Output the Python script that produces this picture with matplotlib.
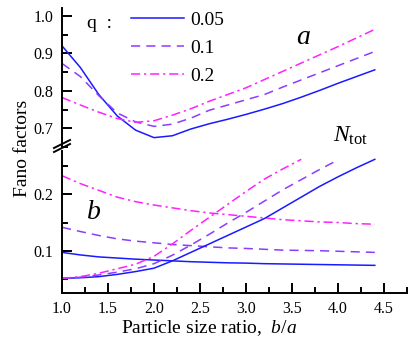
import matplotlib
matplotlib.use("Agg")
import matplotlib.pyplot as plt

# data
ratio = [1.0, 1.2, 1.4, 1.6, 1.8, 2.0, 2.2, 2.4, 2.6, 2.8, 3.0, 3.2, 3.4,
         3.6, 3.8, 4.0, 4.2, 4.4]

# panel a (upper)
a_q005 = [0.920, 0.862, 0.790, 0.733, 0.695, 0.675, 0.680, 0.698, 0.712,
          0.724, 0.737, 0.751, 0.766, 0.783, 0.801, 0.820, 0.838, 0.856]
a_q01 = [0.873, 0.838, 0.787, 0.741, 0.717, 0.705, 0.711, 0.727, 0.748,
         0.762, 0.776, 0.790, 0.810, 0.829, 0.848, 0.867, 0.886, 0.905]
a_q02 = [0.782, 0.762, 0.743, 0.726, 0.716, 0.720, 0.735, 0.752, 0.772,
         0.790, 0.808, 0.830, 0.852, 0.874, 0.896, 0.918, 0.941, 0.964]

# panel b (lower), decreasing curves
b_q005 = [0.097, 0.0925, 0.089, 0.087, 0.085, 0.0835, 0.082, 0.0805, 0.0795,
          0.0785, 0.078, 0.077, 0.0765, 0.076, 0.0755, 0.075, 0.0745, 0.074]
b_q01 = [0.1415, 0.134, 0.127, 0.121, 0.117, 0.114, 0.111, 0.109, 0.107,
         0.105, 0.104, 0.1025, 0.101, 0.1005, 0.100, 0.099, 0.098, 0.097]
b_q02 = [0.233, 0.219, 0.207, 0.195, 0.187, 0.181, 0.176, 0.171, 0.167,
         0.164, 0.161, 0.158, 0.155, 0.153, 0.151, 0.150, 0.148, 0.147]

# N_tot curves
ntot_q005 = [0.051, 0.052, 0.054, 0.058, 0.063, 0.069, 0.082, 0.097, 0.112,
             0.127, 0.142, 0.157, 0.176, 0.195, 0.214, 0.231, 0.247, 0.262]
ntot_q01 = [0.051, 0.053, 0.057, 0.062, 0.068, 0.077, 0.092, 0.110, 0.129,
            0.149, 0.168, 0.188, 0.208, 0.226, 0.244, 0.261]
ntot_q02 = [0.051, 0.054, 0.060, 0.068, 0.076, 0.090, 0.112, 0.136, 0.159,
            0.182, 0.205, 0.227, 0.245, 0.262]

q_labels = ["0.05", "0.1", "0.2"]

plt.rcParams["font.family"] = ["Liberation Serif", "DejaVu Serif"]
plt.rcParams["mathtext.fontset"] = "custom"
plt.rcParams["mathtext.rm"] = "Liberation Serif"
plt.rcParams["mathtext.it"] = "Liberation Serif:italic"

W, H = 414, 343
fig = plt.figure(figsize=(W / 100, H / 100), dpi=100)

left = 62 / W
right = 407 / W
ax_a = fig.add_axes([left, 1 - 147 / H, right - left, (147 - 8) / H])
ax_b = fig.add_axes([left, 1 - 293 / H, right - left, (293 - 151) / H])

blue = "#1a1aff"
purple = "#8c3cff"
magenta = "#ff22ff"
styles = [dict(color=blue, lw=1.1, ls="-"),
          dict(color=purple, lw=1.1, ls=(0, (6, 4))),
          dict(color=magenta, lw=1.1, ls=(0, (6, 2.5, 1.5, 2.5)))]

handles = []
for ys, st, lab in zip([a_q005, a_q01, a_q02], styles, q_labels):
    h, = ax_a.plot(ratio, ys, label=lab, **st)
    handles.append(h)

for ys, st in zip([b_q005, b_q01, b_q02], styles):
    ax_b.plot(ratio, ys, **st)
for ys, st in zip([ntot_q005, ntot_q01, ntot_q02], styles):
    ax_b.plot(ratio[:len(ys)], ys, **st)

for ax in (ax_a, ax_b):
    ax.set_xlim(1.0, 4.75)
    ax.spines["top"].set_visible(False)
    ax.spines["right"].set_visible(False)
    ax.spines["left"].set_linewidth(1.4)
    ax.spines["bottom"].set_linewidth(1.4)
    ax.tick_params(which="both", direction="in", width=1.4, labelsize=11.5,
                   pad=6)
    ax.tick_params(which="major", length=7)
    ax.tick_params(which="minor", length=4)
    ax.patch.set_alpha(0)

ax_a.spines["bottom"].set_visible(False)
ax_a.tick_params(axis="x", which="both", bottom=False, labelbottom=False)
ax_a.set_ylim(0.655, 1.021)
ax_a.set_yticks([0.7, 0.8, 0.9, 1.0])
ax_a.set_yticks([0.65, 0.75, 0.85, 0.95], minor=True)

ax_b.set_ylim(0.025, 0.2768)
ax_b.set_yticks([0.1, 0.2])
ax_b.set_yticks([0.05, 0.15, 0.25], minor=True)
ax_b.set_xticks([1.0, 1.5, 2.0, 2.5, 3.0, 3.5, 4.0, 4.5])
ax_b.set_xticks([1.25, 1.75, 2.25, 2.75, 3.25, 3.75, 4.25, 4.75], minor=True)
ax_b.set_xticklabels(["1.0", "1.5", "2.0", "2.5", "3.0", "3.5", "4.0", "4.5"])

# axis break marks
for dy in (-4, 0):
    y0 = 1 - (148 + dy) / H
    fig.add_artist(plt.Line2D([left - 8 / W, left + 8 / W],
                              [y0 - 4 / H, y0 + 4 / H],
                              color="black", lw=1.4))

leg = ax_a.legend(handles=handles, loc="upper left",
                  bbox_to_anchor=(131 / W, 1 - 11 / H),
                  bbox_transform=fig.transFigure, frameon=False,
                  fontsize=14, handlelength=2.75, handletextpad=0.3,
                  labelspacing=0.55, borderpad=0, borderaxespad=0)
fig.text(87 / W, 1 - 23 / H, "q  :", fontsize=14, va="center", ha="left")

ax_a.text(3.62, 0.942, "a", fontsize=20, style="italic",
          ha="center", va="center")
ax_a.text(3.95, 0.679, r"$N_{\rm tot}$", fontsize=17, ha="left",
          va="center")
ax_b.text(1.35, 0.167, "b", fontsize=20, style="italic",
          ha="center", va="center")

fig.text(23 / W, 1 - 148 / H, "Fano factors", fontsize=14, rotation=90,
         ha="center", va="center")
fig.text(209 / W, 1 - 328 / H, r"Particle size ratio,  $b/a$", fontsize=14,
         ha="center", va="center")

fig.savefig("out.png", dpi=100)
